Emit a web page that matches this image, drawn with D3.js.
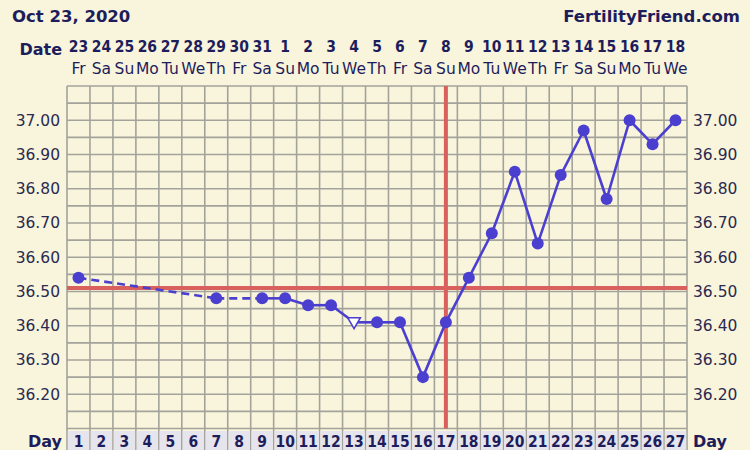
<!DOCTYPE html>
<html><head><meta charset="utf-8">
<script src="https://cdn.jsdelivr.net/npm/d3@7"></script>
<style>html,body{margin:0;padding:0;background:#f9f4dc;}svg{display:block;}</style>
</head><body>
<svg id="chart" width="750" height="450"></svg>
<script>
const title = "Oct 23, 2020";
const brand = "FertilityFriend.com";
const cycleDays = d3.range(1, 28);
const dateLabels = ["23","24","25","26","27","28","29","30","31","1","2","3","4","5","6","7","8","9","10","11","12","13","14","15","16","17","18"];
const weekdayLabels = ["Fr","Sa","Su","Mo","Tu","We","Th","Fr","Sa","Su","Mo","Tu","We","Th","Fr","Sa","Su","Mo","Tu","We","Th","Fr","Sa","Su","Mo","Tu","We"];
const tempDays = [1,7,9,10,11,12,13,14,15,16,17,18,19,20,21,22,23,24,25,26,27];
const tempValues = [36.54,36.48,36.48,36.48,36.46,36.46,36.41,36.41,36.41,36.25,36.41,36.54,36.67,36.85,36.64,36.84,36.97,36.77,37.00,36.93,37.00];
const openDays = [13];
const yTicks = [36.20,36.30,36.40,36.50,36.60,36.70,36.80,36.90,37.00];
const coverline = 36.51;
const ovulationDay = 17;

const svg = d3.select("#chart");
const L = 67, R = 687, T = 86, B = 428.5;
const x = d3.scaleLinear().domain([0.5, 27.5]).range([L, R]);
const y = d3.scaleLinear().domain([36.10, 37.10]).range([B, T]);
const navy = "#1d1d5c", gridC = "#a3a39b", lineC = "#4b3fcf", redC = "#d9605c";

svg.append("rect").attr("width",750).attr("height",450).attr("fill","#f9f4dc");

// header
svg.append("text").attr("x",12).attr("y",22).attr("font-family","DejaVu Sans").attr("font-weight","bold").attr("font-size",16.5).attr("fill",navy).text(title);
svg.append("text").attr("x",740).attr("y",22).attr("text-anchor","end").attr("font-family","DejaVu Sans").attr("font-weight","bold").attr("font-size",16.5).attr("fill",navy).text(brand);
svg.append("text").attr("x",62).attr("y",55).attr("text-anchor","end").attr("font-family","DejaVu Sans").attr("font-weight","bold").attr("font-size",16).attr("fill",navy).text("Date");
svg.append("g").selectAll("text").data(cycleDays).join("text")
  .attr("x",d=>x(d)).attr("y",52).attr("text-anchor","middle")
  .attr("font-family","DejaVu Sans Condensed, DejaVu Sans").attr("font-weight","bold").attr("font-size",15.5).attr("fill",navy)
  .text((d,i)=>dateLabels[i]);
svg.append("g").selectAll("text").data(cycleDays).join("text")
  .attr("x",d=>x(d)).attr("y",74).attr("text-anchor","middle")
  .attr("font-family","DejaVu Sans").attr("font-size",15.5).attr("fill",navy)
  .text((d,i)=>weekdayLabels[i]);

// grid
const grid = svg.append("g");
const hLines = d3.range(0, 21).map(i => 36.10 + i*0.05);
grid.selectAll("line.h").data(hLines).join("line").attr("class","h")
  .attr("x1",L).attr("x2",R).attr("y1",d=>y(d)).attr("y2",d=>y(d))
  .attr("stroke",gridC).attr("stroke-width",1.6);
const vLines = d3.range(0, 28).map(i => 0.5 + i);
grid.selectAll("line.v").data(vLines).join("line").attr("class","v")
  .attr("x1",d=>x(d)).attr("x2",d=>x(d)).attr("y1",T).attr("y2",450)
  .attr("stroke",gridC).attr("stroke-width",1.6);

// day row
const dayRow = svg.append("g");
dayRow.selectAll("rect").data(cycleDays).join("rect")
  .attr("x",d=>x(d-0.5)+0.8).attr("y",431).attr("width",x(1.5)-x(0.5)-1.6).attr("height",20)
  .attr("fill","#e6e4ec");
dayRow.selectAll("text").data(cycleDays).join("text")
  .attr("x",d=>x(d)).attr("y",447).attr("text-anchor","middle")
  .attr("font-family","DejaVu Sans Condensed, DejaVu Sans").attr("font-weight","bold").attr("font-size",15.5).attr("fill",navy)
  .text(d=>d);
svg.append("text").attr("x",62).attr("y",447).attr("text-anchor","end").attr("font-family","DejaVu Sans").attr("font-weight","bold").attr("font-size",16).attr("fill",navy).text("Day");
svg.append("text").attr("x",693).attr("y",447).attr("font-family","DejaVu Sans").attr("font-weight","bold").attr("font-size",16).attr("fill",navy).text("Day");

// y labels
const axL = d3.axisLeft(y).tickValues(yTicks).tickFormat(d3.format(".2f")).tickSize(0).tickPadding(7);
const axR = d3.axisRight(y).tickValues(yTicks).tickFormat(d3.format(".2f")).tickSize(0).tickPadding(6);
const gL = svg.append("g").attr("transform",`translate(${L},0)`).call(axL);
const gR = svg.append("g").attr("transform",`translate(${R},0)`).call(axR);
[gL,gR].forEach(g=>{
  g.select(".domain").remove();
  g.selectAll("text").attr("font-family","DejaVu Sans").attr("font-size",15.5).attr("fill","#2a2a50");
});

// coverline & ovulation line
svg.append("line").attr("x1",L).attr("x2",R).attr("y1",y(coverline)).attr("y2",y(coverline)).attr("stroke",redC).attr("stroke-width",4);
svg.append("line").attr("x1",x(ovulationDay)).attr("x2",x(ovulationDay)).attr("y1",T).attr("y2",B).attr("stroke",redC).attr("stroke-width",4);

// temperature lines
const pts = tempDays.map((d,i)=>({day:d, v:tempValues[i]}));
const segs = d3.pairs(pts);
svg.append("g").selectAll("line").data(segs).join("line")
  .attr("x1",d=>x(d[0].day)).attr("y1",d=>y(d[0].v))
  .attr("x2",d=>x(d[1].day)).attr("y2",d=>y(d[1].v))
  .attr("stroke",lineC).attr("stroke-width",2.6)
  .attr("stroke-dasharray",d=> (d[1].day - d[0].day > 1) ? "8,5" : null);

svg.append("g").selectAll("circle").data(pts.filter(p=>!openDays.includes(p.day))).join("circle")
  .attr("cx",d=>x(d.day)).attr("cy",d=>y(d.v)).attr("r",6).attr("fill",lineC);

const tri = d3.symbol().type(d3.symbolTriangle).size(70);
svg.append("g").selectAll("path").data(pts.filter(p=>openDays.includes(p.day))).join("path")
  .attr("d",tri).attr("transform",d=>`translate(${x(d.day)},${y(d.v)-1}) rotate(180)`)
  .attr("fill","#ffffff").attr("stroke",lineC).attr("stroke-width",1.5);
</script>
</body></html>
